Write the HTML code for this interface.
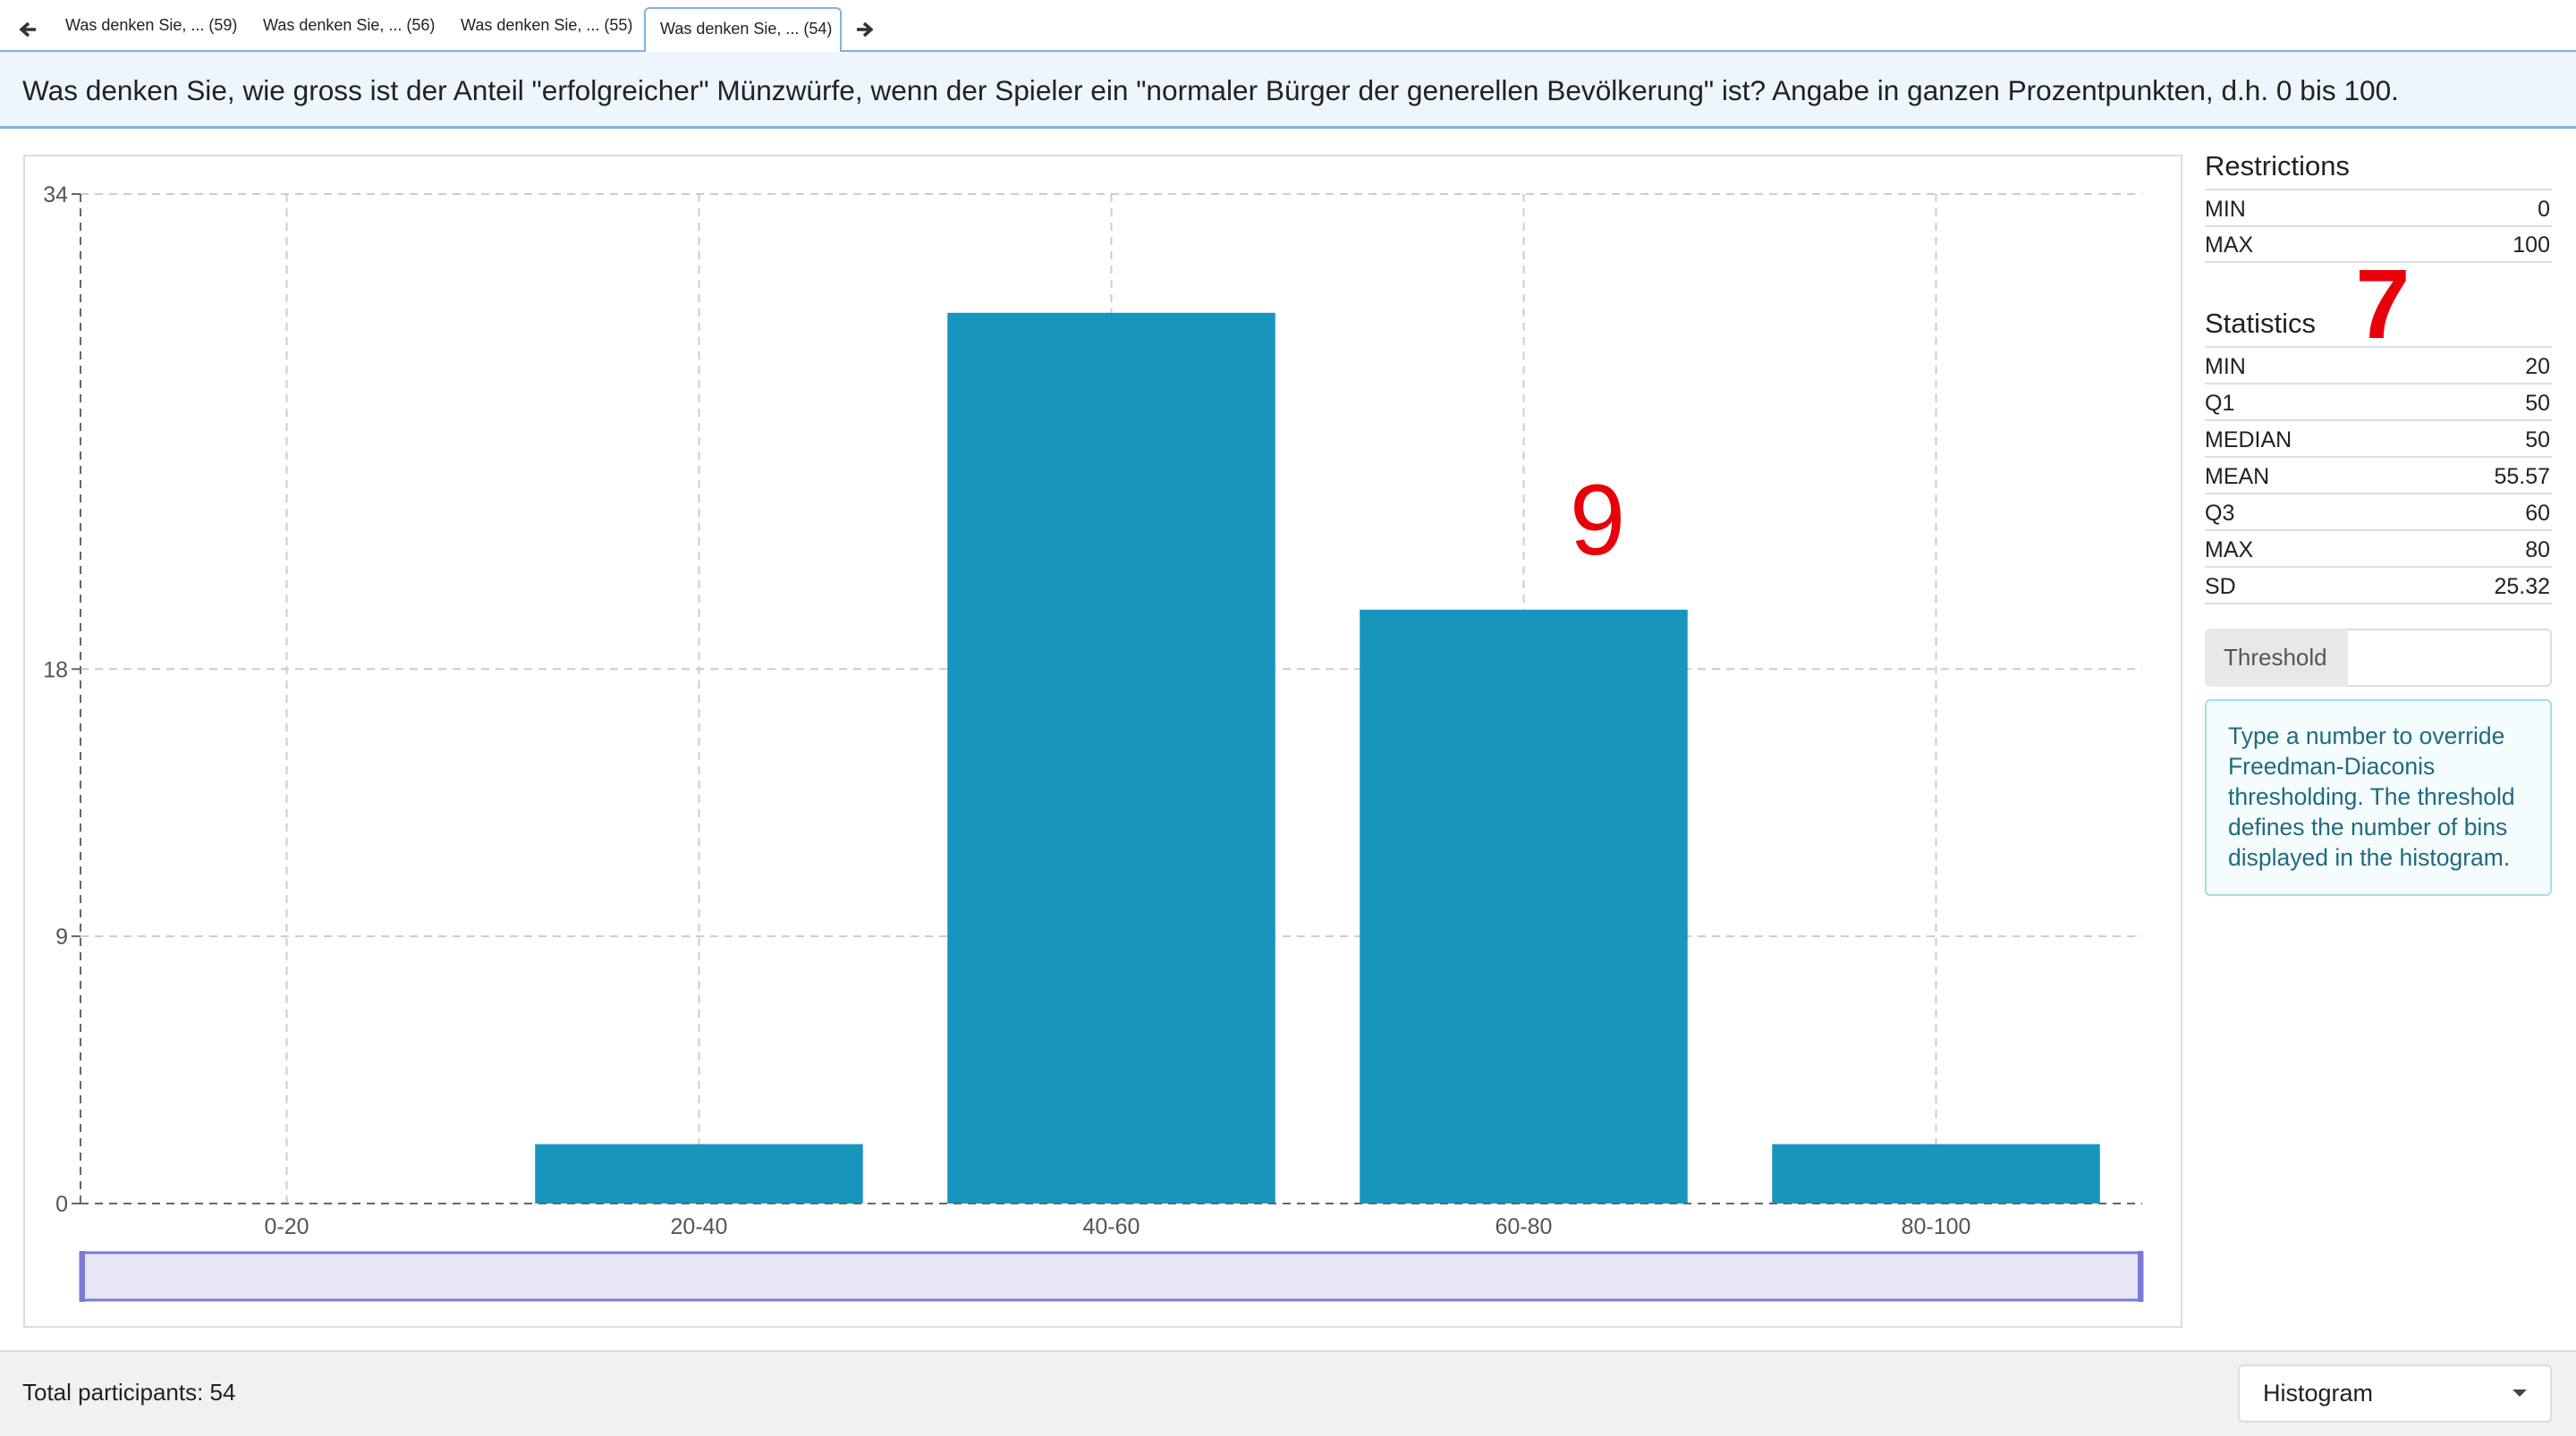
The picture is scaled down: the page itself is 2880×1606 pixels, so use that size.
<!DOCTYPE html>
<html><head><meta charset="utf-8">
<style>
*{box-sizing:border-box;margin:0;padding:0}
body{width:2880px;height:1606px;position:relative;background:#fff;font-family:"Liberation Sans",sans-serif;color:#222;overflow:hidden}
.abs{position:absolute}
.tab{position:absolute;top:18px;font-size:18px;color:#222;white-space:nowrap}
.row{position:absolute;left:2465px;width:388px;height:40px;border-bottom:2px solid #ddd;font-size:25px;line-height:40px}
.row span.v{position:absolute;right:2px}
</style></head><body>
<div class="abs" style="left:0;top:0;width:2880px;height:58px;border-bottom:2px solid #7fb3de"></div>
<svg class="abs" style="left:22px;top:24px" width="20" height="18"><path d="M10 2 L2 9 L10 16 M2 9 H18" stroke="#333" stroke-width="3.5" fill="none"/></svg>
<div class="tab" style="left:73px">Was denken Sie, ... (59)</div>
<div class="tab" style="left:294px">Was denken Sie, ... (56)</div>
<div class="tab" style="left:515px">Was denken Sie, ... (55)</div>
<div class="abs" style="left:720px;top:8px;width:221px;height:52px;border:2px solid #7fb3de;border-bottom:none;border-radius:6px 6px 0 0;background:#fff;font-size:18px;padding:12px 0 0 16px;white-space:nowrap">Was denken Sie, ... (54)</div>
<svg class="abs" style="left:956px;top:24px" width="20" height="18"><path d="M10 2 L18 9 L10 16 M18 9 H2" stroke="#333" stroke-width="3.5" fill="none"/></svg>
<div class="abs" style="left:0;top:58px;width:2880px;height:86px;background:#eef5fc;border-bottom:3px solid #7fb3de;font-size:31.6px;line-height:86px;padding-left:25px;white-space:nowrap">Was denken Sie, wie gross ist der Anteil "erfolgreicher" Münzwürfe, wenn der Spieler ein "normaler Bürger der generellen Bevölkerung" ist? Angabe in ganzen Prozentpunkten, d.h. 0 bis 100.</div>

<div class="abs" style="left:26px;top:173px;width:2414px;height:1312px;border:2px solid #ddd"></div>
<svg class="abs" style="left:0;top:0" width="2880" height="1606">
<g id="grid"></g><g id="bars"></g><g id="axes"></g>
<rect x="90" y="1401" width="2305" height="53" fill="#e6e6f6" stroke="#7b7bd6" stroke-width="3"/>
<rect x="89" y="1399" width="6" height="57" fill="#7b7bd6"/>
<rect x="2390" y="1399" width="6" height="57" fill="#7b7bd6"/>
<text x="1786" y="620" font-size="112" fill="#e8000b" text-anchor="middle" font-family="Liberation Sans">9</text>
<text x="2664" y="378" font-size="110" fill="#e8000b" text-anchor="middle" font-family="Liberation Sans" font-weight="bold">7</text>
</svg>

<div class="abs" style="left:2465px;top:168px;font-size:31px">Restrictions</div>
<div class="abs" style="left:2465px;top:211px;width:388px;border-top:2px solid #ddd"></div>
<div class="row" style="top:214px">MIN<span class="v">0</span></div>
<div class="row" style="top:254px">MAX<span class="v">100</span></div>
<div class="abs" style="left:2465px;top:344px;font-size:31px">Statistics</div>
<div class="abs" style="left:2465px;top:387px;width:388px;border-top:2px solid #ddd"></div>
<div class="row" style="top:390px">MIN<span class="v">20</span></div>
<div class="row" style="top:431px">Q1<span class="v">50</span></div>
<div class="row" style="top:472px">MEDIAN<span class="v">50</span></div>
<div class="row" style="top:513px">MEAN<span class="v">55.57</span></div>
<div class="row" style="top:554px">Q3<span class="v">60</span></div>
<div class="row" style="top:595px">MAX<span class="v">80</span></div>
<div class="row" style="top:636px">SD<span class="v">25.32</span></div>
<div class="abs" style="left:2465px;top:703px;width:160px;height:65px;background:#e8e8e8;border-radius:6px 0 0 6px;font-size:26px;color:#555;line-height:65px;padding-left:21px">Threshold</div>
<div class="abs" style="left:2625px;top:703px;width:228px;height:65px;border:2px solid #ddd;border-left:none;border-radius:0 6px 6px 0"></div>
<div class="abs" style="left:2465px;top:782px;width:388px;height:220px;background:#f5fcfd;border:2px solid #a9dce3;border-radius:6px;color:#1e6b80;font-size:26.5px;line-height:34px;padding:22px 20px 0 24px">Type a number to override Freedman-Diaconis thresholding. The threshold defines the number of bins displayed in the histogram.</div>

<div class="abs" style="left:0;top:1510px;width:2880px;height:96px;background:#f1f1f1;border-top:2px solid #ddd"></div>
<div class="abs" style="left:25px;top:1542px;font-size:26px">Total participants: 54</div>
<div class="abs" style="left:2502px;top:1526px;width:351px;height:65px;background:#fff;border:2px solid #ddd;border-radius:6px;font-size:27px;line-height:61px;padding-left:26px">Histogram<span style="position:absolute;right:26px;top:26px;width:0;height:0;border-left:8px solid transparent;border-right:8px solid transparent;border-top:8px solid #444"></span></div>

<script>
const categories=["0-20","20-40","40-60","60-80","80-100"];
const counts=[0,2,30,20,2];
const yTicks=[0,9,18,34];
const yMax=34;
const NS="http://www.w3.org/2000/svg";
const L=90,R=2395,T=217,B=1346;
const bw=(R-L)/categories.length;
const x=i=>L+bw*i;
const y=v=>B-(v/yMax)*(B-T);
function mk(tag,attrs,parent){const e=document.createElementNS(NS,tag);for(const k in attrs)e.setAttribute(k,attrs[k]);document.getElementById(parent).appendChild(e);return e;}
yTicks.forEach(t=>{
  const g=mk("line",{x1:L,x2:R,y1:y(t),y2:y(t),stroke:"#ccc","stroke-width":2,"stroke-dasharray":"9,7"},"grid");
  
  
  const tk=mk("line",{x1:L-10,x2:L,y1:y(t),y2:y(t),stroke:"#666","stroke-width":2},"axes");
  
  
  const lb=mk("text",{x:L-14,y:y(t)+9,"text-anchor":"end","font-size":25,fill:"#555","font-family":"Liberation Sans"},"axes");
  lb.textContent=t;
  
  
});
categories.forEach((c,i)=>{
  const cx=x(i)+bw/2;
  const g=mk("line",{x1:cx,x2:cx,y1:T,y2:B,stroke:"#ccc","stroke-width":2,"stroke-dasharray":"9,7"},"grid");
  
  
  const w=bw*0.795;
  const r=mk("rect",{x:cx-w/2,y:y(counts[i]),width:w,height:B-y(counts[i]),fill:"#1795bd"},"bars");
  
  
  const lb=mk("text",{x:cx,y:B+34,"text-anchor":"middle","font-size":25,fill:"#555","font-family":"Liberation Sans"},"axes");
  lb.textContent=c;
  
  
});
const ya=mk("line",{x1:L,x2:L,y1:T,y2:B,stroke:"#666","stroke-width":2,"stroke-dasharray":"9,7"},"axes");


const xa=mk("line",{x1:L,x2:R,y1:B,y2:B,stroke:"#666","stroke-width":2,"stroke-dasharray":"9,7"},"axes");


</script>
</body></html>
